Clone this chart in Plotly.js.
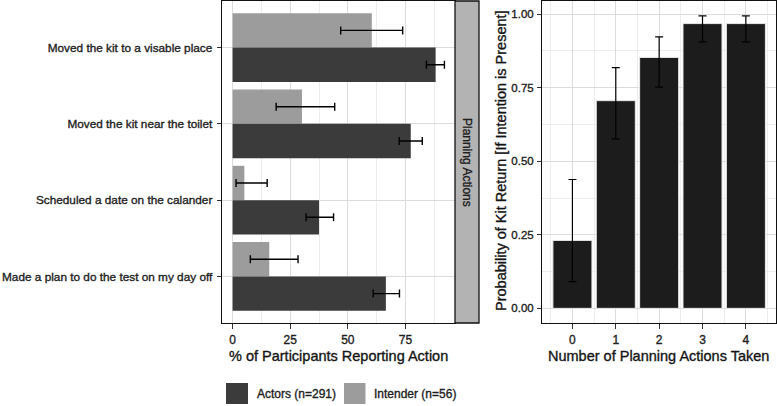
<!DOCTYPE html>
<html><head><meta charset="utf-8">
<script src="https://cdn.plot.ly/plotly-3.0.1.min.js"></script>
<style>
html,body{margin:0;padding:0;background:#fff}
#chart{width:777px;height:406px}
#chart svg text{stroke:#1e1e1e;stroke-width:0.35px}
</style>
</head><body><div id="chart"></div>
<script>
// ---- data ----
const actions = ["Moved the kit to a visable place", "Moved the kit near the toilet", "Scheduled a date on the calander", "Made a plan to do the test on my day off"];
const intenderPct = [60.4, 30.1, 5.1, 15.9];
const intenderLow = [46.9, 18.9, 1.5, 7.7];
const intenderHigh = [73.8, 44.3, 15.0, 28.4];
const actorsPct = [88.1, 77.3, 37.5, 66.5];
const actorsLow = [84.1, 72.3, 31.9, 61.0];
const actorsHigh = [91.9, 82.3, 43.8, 72.4];
const numActions = [0, 1, 2, 3, 4];
const returnProb = [0.231, 0.706, 0.853, 0.968, 0.968];
const returnLow = [0.091, 0.576, 0.752, 0.906, 0.906];
const returnHigh = [0.438, 0.818, 0.923, 0.994, 0.994];
const leftTicks = [0, 25, 50, 75];
const rightYTicks = [0, 0.25, 0.5, 0.75, 1.0];
const rightYTickText = ["0.00", "0.25", "0.50", "0.75", "1.00"];
const seriesNames = ["Actors (n=291)", "Intender (n=56)"];
const stripLabel = "Planning Actions";
const leftXTitle = "% of Participants Reporting Action";
const rightXTitle = "Number of Planning Actions Taken";
const rightYTitle = "Probability of Kit Return [If Intention is Present]";

// ---- helpers ----
const W = 777, H = 406;
const px = x => x / W;
const py = y => 1 - y / H;
const up = (v, hi) => v.map((d, i) => hi[i] - d);
const dn = (v, lo) => v.map((d, i) => d - lo[i]);

const actorsColor = "#3b3b3b", intenderColor = "#9c9c9c", barDark = "#1c1c1c";
const FONT = "Liberation Sans, Arial, sans-serif";
const txt = "#1e1e1e";
const tickFont = {family: FONT, size: 11.8, color: txt};
const titleFont = {family: FONT, size: 14.5, color: "#111"};

const traces = [
  {type: "bar", orientation: "h", name: seriesNames[1], y: actions, x: intenderPct,
   marker: {color: intenderColor}, showlegend: false, xaxis: "x", yaxis: "y",
   error_x: {type: "data", symmetric: false, array: up(intenderPct, intenderHigh), arrayminus: dn(intenderPct, intenderLow), color: "#000", thickness: 1.4, width: 4}},
  {type: "bar", orientation: "h", name: seriesNames[0], y: actions, x: actorsPct,
   marker: {color: actorsColor}, showlegend: false, xaxis: "x", yaxis: "y",
   error_x: {type: "data", symmetric: false, array: up(actorsPct, actorsHigh), arrayminus: dn(actorsPct, actorsLow), color: "#000", thickness: 1.4, width: 4}},
  {type: "bar", x: numActions, y: returnProb, marker: {color: barDark, line: {color: "#e8e8e8", width: 1}},
   width: 0.9, showlegend: false, xaxis: "x2", yaxis: "y2",
   error_y: {type: "data", symmetric: false, array: up(returnProb, returnHigh), arrayminus: dn(returnProb, returnLow), color: "#000", thickness: 1.2, width: 4}}
];

const axisCommon = {
  showline: true, linecolor: "#111", linewidth: 1.3, mirror: true,
  ticks: "outside", ticklen: 4, tickcolor: "#333", tickwidth: 1,
  gridcolor: "#dcdcdc", gridwidth: 1, zeroline: false,
  tickfont: tickFont
};

const layout = {
  width: W, height: H, margin: {l: 0, r: 0, t: 0, b: 0},
  paper_bgcolor: "#fff", plot_bgcolor: "#fff",
  barmode: "group", bargap: 0.1, bargroupgap: 0,
  font: {family: FONT, color: txt},
  xaxis: Object.assign({}, axisCommon, {
    domain: [px(222), px(455)], anchor: "y", range: [-4.6, 96.5], ticklen: 5,
    tickvals: leftTicks, ticktext: leftTicks.map(String), ticklabelstandoff: 1.5,
    tickfont: {family: FONT, size: 12, color: txt},
    minor: {dtick: 12.5, tick0: 0, showgrid: true, gridcolor: "#e6e6e6", gridwidth: 0.7, ticks: ""}
  }),
  yaxis: Object.assign({}, axisCommon, {
    domain: [py(323), py(1)], anchor: "x", type: "category",
    categoryorder: "array", categoryarray: actions, range: [3.61, -0.61],
    ticklabelstandoff: 2
  }),
  xaxis2: Object.assign({}, axisCommon, {
    domain: [px(542.3), px(776)], anchor: "y2", range: [-0.695, 4.695], ticklen: 5,
    tickvals: numActions, ticktext: numActions.map(String), ticklabelstandoff: 1.5,
    tickfont: {family: FONT, size: 12, color: txt},
    minor: {dtick: 0.5, tick0: 0, showgrid: true, gridcolor: "#e6e6e6", gridwidth: 0.7, ticks: ""}
  }),
  yaxis2: Object.assign({}, axisCommon, {
    domain: [py(323), py(1)], anchor: "x2", range: [-0.0498, 1.0448],
    tickvals: rightYTicks, ticktext: rightYTickText, ticklabelstandoff: 1,
    tickfont: {family: FONT, size: 11.5, color: txt},
    minor: {dtick: 0.125, tick0: 0, showgrid: true, gridcolor: "#e6e6e6", gridwidth: 0.7, ticks: ""}
  }),
  shapes: [
    {type: "rect", xref: "paper", yref: "paper", x0: px(455), x1: px(479), y0: py(323), y1: py(1),
     fillcolor: "#b3b3b3", line: {color: "#111", width: 1.3}, layer: "above"},
    {type: "rect", xref: "paper", yref: "paper", x0: px(226), x1: px(248), y0: py(404), y1: py(383),
     fillcolor: actorsColor, line: {width: 0}},
    {type: "rect", xref: "paper", yref: "paper", x0: px(344), x1: px(365.5), y0: py(404), y1: py(383),
     fillcolor: intenderColor, line: {width: 0}}
  ],
  annotations: [
    {xref: "paper", yref: "paper", x: px(338), y: py(355.5), text: leftXTitle, showarrow: false,
     font: titleFont, xanchor: "center", yanchor: "middle"},
    {xref: "paper", yref: "paper", x: px(658.5), y: py(355.5), text: rightXTitle, showarrow: false,
     font: titleFont, xanchor: "center", yanchor: "middle"},
    {xref: "paper", yref: "paper", x: px(501), y: py(161), text: rightYTitle, textangle: -90, showarrow: false,
     font: titleFont, xanchor: "center", yanchor: "middle"},
    {xref: "paper", yref: "paper", x: px(467), y: py(162), text: stripLabel, textangle: 90, showarrow: false,
     font: {family: FONT, size: 12, color: txt}, xanchor: "center", yanchor: "middle"},
    {xref: "paper", yref: "paper", x: px(255), y: py(393.5), text: seriesNames[0], showarrow: false,
     font: {family: FONT, size: 12, color: txt}, xanchor: "left", yanchor: "middle"},
    {xref: "paper", yref: "paper", x: px(372), y: py(393.5), text: seriesNames[1], showarrow: false,
     font: {family: FONT, size: 12, color: txt}, xanchor: "left", yanchor: "middle"}
  ]
};

Plotly.newPlot("chart", traces, layout, {staticPlot: true, displayModeBar: false});
</script>
</body></html>
